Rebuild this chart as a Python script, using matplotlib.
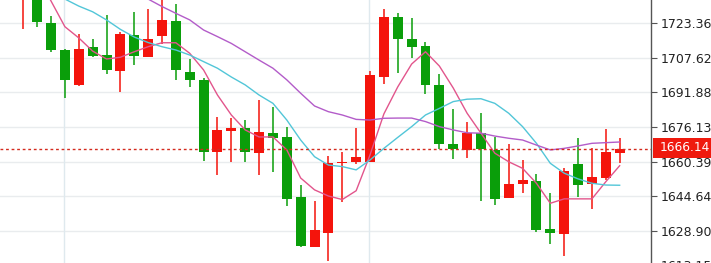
import matplotlib

matplotlib.use("Agg")
import matplotlib.pyplot as plt
import numpy as np
from matplotlib.patches import Rectangle

# candle values, one entry per bar, oldest first
OPENS = [1736.2, 1737.6, 1723.4, 1711.2, 1695.1, 1712.4, 1708.9, 1701.5, 1718.0, 1707.9,
         1717.4, 1724.5, 1701.3, 1697.6, 1664.9, 1674.5, 1675.8, 1664.3, 1673.3, 1671.7,
         1644.4, 1621.6, 1628.0, 1659.6, 1660.1, 1660.2, 1698.9, 1726.1, 1716.1, 1713.0,
         1695.4, 1668.3, 1665.8, 1673.3, 1665.6, 1643.8, 1650.0, 1651.7, 1629.5, 1627.3,
         1659.4, 1650.2, 1653.0, 1664.2]
HIGHS = [1747.6, 1740.8, 1726.8, 1711.5, 1718.4, 1716.1, 1727.1, 1719.3, 1728.5, 1729.7,
         1736.2, 1732.0, 1707.0, 1698.3, 1680.6, 1680.1, 1679.3, 1688.4, 1685.1, 1676.1,
         1649.7, 1642.4, 1662.9, 1664.9, 1675.5, 1701.8, 1729.7, 1727.9, 1725.9, 1715.0,
         1700.3, 1684.2, 1678.6, 1682.6, 1671.7, 1668.4, 1661.1, 1654.7, 1646.0, 1657.3,
         1671.3, 1666.7, 1675.2, 1671.0]
LOWS = [1720.8, 1721.8, 1710.2, 1689.2, 1694.9, 1707.9, 1700.3, 1691.9, 1704.4, 1707.8,
        1713.9, 1697.5, 1694.2, 1660.7, 1654.4, 1660.1, 1660.3, 1654.3, 1655.8, 1640.2,
        1621.7, 1621.5, 1615.2, 1642.1, 1659.3, 1660.0, 1695.6, 1700.9, 1707.4, 1691.0,
        1666.1, 1661.4, 1661.9, 1642.6, 1640.6, 1643.6, 1646.2, 1628.4, 1622.7, 1617.5,
        1644.4, 1638.7, 1651.9, 1659.6]
CLOSES = [1743.1, 1724.0, 1711.2, 1697.4, 1711.8, 1708.6, 1702.0, 1718.4, 1708.6, 1716.4,
          1725.0, 1702.1, 1697.4, 1664.9, 1674.9, 1675.8, 1664.8, 1673.9, 1671.3, 1643.5,
          1621.9, 1629.2, 1659.9, 1660.4, 1662.5, 1700.0, 1726.4, 1716.1, 1712.7, 1695.1,
          1668.4, 1666.3, 1673.3, 1666.1, 1643.2, 1650.2, 1652.0, 1629.2, 1627.7, 1656.2,
          1649.6, 1653.4, 1664.8, 1666.14]

# moving averages
MA_FAST = [1756.7, 1745.4, 1733.5, 1721.8, 1716.7, 1710.7, 1707.1, 1707.9, 1710.4, 1712.7,
           1714.5, 1714.5, 1709.7, 1702.1, 1690.7, 1681.6, 1674.8, 1671.6, 1671.6, 1665.7,
           1652.9, 1647.5, 1644.7, 1643.1, 1647.1, 1663.4, 1682.1, 1694.4, 1704.8, 1710.4,
           1703.9, 1693.9, 1682.4, 1673.3, 1664.2, 1660.3, 1657.3, 1650.5, 1641.4, 1643.4,
           1643.4, 1643.4, 1651.2, 1658.5]
MA_MID = [1752.2, 1745.4, 1738.5, 1734.4, 1731.2, 1728.6, 1724.9, 1720.6, 1717.1, 1714.6,
          1712.7, 1711.2, 1708.9, 1705.9, 1702.9, 1698.9, 1695.3, 1690.7, 1686.9, 1679.3,
          1670.2, 1662.6, 1658.8, 1658.1, 1656.6, 1661.1, 1666.4, 1671.4, 1676.3, 1681.6,
          1684.6, 1687.7, 1688.8, 1689.0, 1686.9, 1682.4, 1676.3, 1668.7, 1659.6, 1655.1,
          1652.5, 1650.5, 1649.7, 1649.6]
MA_SLOW = [1768.1, 1765.0, 1761.3, 1757.7, 1754.5, 1750.8, 1746.7, 1743.1, 1738.5, 1734.4,
           1731.0, 1727.9, 1724.9, 1720.3, 1717.3, 1714.2, 1710.4, 1706.6, 1702.9, 1697.6,
           1691.5, 1685.7, 1683.1, 1681.6, 1679.6, 1679.3, 1680.1, 1680.2, 1680.2, 1678.6,
           1676.3, 1674.8, 1673.5, 1673.3, 1672.0, 1671.0, 1670.2, 1667.9, 1665.7, 1666.4,
           1667.5, 1668.7, 1669.0, 1669.3]

PRICE_TICKS = [1723.36, 1707.62, 1691.88, 1676.13, 1660.39, 1644.64, 1628.90, 1613.15]
LAST_PRICE = 1666.14
DATE_LINES = [2.95, 24.95]

UP_COLOR = "#f4140c"
DOWN_COLOR = "#0a9e0a"

W, H = 711, 263
fig = plt.figure(figsize=(W / 100, H / 100), dpi=100)
ax = fig.add_axes([0.0, -0.0456, 651 / W, 1.0456])

x = np.arange(len(CLOSES))
opens = np.array(OPENS)
closes = np.array(CLOSES)
up = closes >= opens
colors = np.where(up, UP_COLOR, DOWN_COLOR)

ax.vlines(x, LOWS, HIGHS, colors=colors, linewidth=1.1, zorder=3)
body_low = np.minimum(opens, closes)
body_h = np.maximum(np.abs(closes - opens), 0.6)
ax.bar(x, body_h, bottom=body_low, width=0.72, color=colors, linewidth=0, zorder=3)

ax.plot(x, MA_FAST, color="#e2558c", linewidth=1.0, zorder=4)
ax.plot(x, MA_MID, color="#52c6d8", linewidth=1.0, zorder=4)
ax.plot(x, MA_SLOW, color="#b35cc9", linewidth=1.0, zorder=4)

ax.axhline(LAST_PRICE, color="#d42a1e", linewidth=1.0, linestyle=(0, (2, 2)), zorder=5)

ax.set_xlim(-1.68, 45.26)
ax.set_ylim(1608.73, 1733.97)

ax.set_yticks(PRICE_TICKS, [f"{v:.2f}" for v in PRICE_TICKS])
ax.set_xticks([])
for v in PRICE_TICKS:
    ax.axhline(v, color="#e9ecee", linewidth=1.0, zorder=0)
for d in DATE_LINES:
    ax.axvline(d, color="#dfe9ee", linewidth=1.0, zorder=0)

ax.yaxis.tick_right()
ax.tick_params(axis="y", direction="out", length=4, width=0.8, color="#555555",
               pad=3, labelsize=9, labelcolor="#222222")
for side in ("left", "top", "bottom"):
    ax.spines[side].set_visible(False)
ax.spines["right"].set_color("#555555")
ax.spines["right"].set_linewidth(1.0)

# last price tag on the axis
fig.add_artist(Rectangle((653 / W, (H - 157.5) / H), 58 / W, 20 / H,
                         transform=fig.transFigure, facecolor="#ef1a0e",
                         edgecolor="none", zorder=5))
fig.text(659.5 / W, (H - 147.5) / H, f"{LAST_PRICE:.2f}", color="white", fontsize=8.8,
         ha="left", va="center", zorder=6)

fig.savefig("out.png", dpi=100)
